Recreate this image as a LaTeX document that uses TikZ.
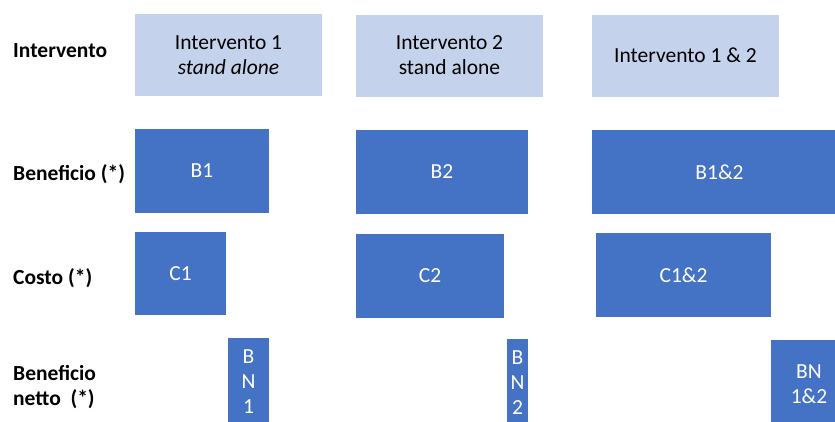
\documentclass[tikz,border=0pt]{standalone}
\usepackage{fontspec}
\setmainfont{Carlito}
\usetikzlibrary{positioning}
\definecolor{lightbox}{RGB}{197,210,235}
\definecolor{darkbox}{RGB}{68,114,196}
\tikzset{
box/.style={rectangle,inner sep=0pt,align=center,anchor=center,
  font=\fontsize{21.5}{25}\selectfont},
head/.style={box,fill=lightbox,text=black,minimum width=187,minimum height=82},
bar/.style={box,fill=darkbox,text=white,minimum height=84},
rowlabel/.style={anchor=base west,inner sep=0pt,align=left,
  font=\fontsize{21.5}{25}\selectfont\bfseries}
}
\begin{document}
\begin{tikzpicture}[x=1pt,y=-1pt]
    \useasboundingbox (0,0) rectangle (835,421);
    \begin{scope}
    \clip (0,0) rectangle (835,421);
    %
    % row labels
    \node[rowlabel](lint) at (13, 57) {Intervento};
    \node[rowlabel](lben) at (13,180) {Beneficio (*)};
    \node[rowlabel](lcos) at (13,284) {Costo (*)};
    \node[rowlabel](lnet) at (13,405) {Beneficio\\netto \ (*)};
    %
    % interventions
    \node[head](h1) at (228.5,55) {Intervento 1\\\textit{stand alone}};
    \node[head](h2) at (449.5,55.5) {Intervento 2\\stand alone};
    \node[head](h12) at (685.5,55.5) {Intervento 1 \& 2};
    %
    % benefits
    \node[bar, minimum width=134](b1) at (202,171) {B1};
    \node[bar, minimum width=172](b2) at (442,172) {B2};
    \node[bar, minimum width=255](b12) at (719.5,172) {B1\&2};
    %
    % costs
    \node[bar, minimum width=91, minimum height=83](c1) at (180.5,273.5) {C1};
    \node[bar, minimum width=148](c2) at (430,276) {C2};
    \node[bar, minimum width=175](c12) at (683.5,275) {C1\&2};
    %
    % net benefits
    \node[bar, minimum width=41, minimum height=88](n1) at (248.5,382) {B\\N\\1};
    \node[bar, minimum width=21, minimum height=88](n2) at (517.5,383) {B\\N\\2};
    \node[bar, minimum width=76, minimum height=89](n12) at (809,384.5) {BN\\1\&2};
    \end{scope}
  \end{tikzpicture}
\end{document}
